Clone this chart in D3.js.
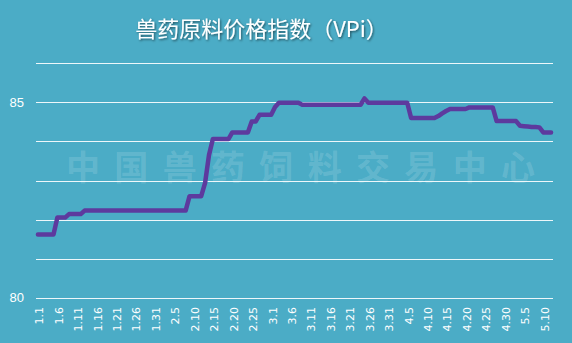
<!DOCTYPE html>
<html><head><meta charset="utf-8">
<script src="https://cdn.jsdelivr.net/npm/d3@7"></script>
<style>html,body{margin:0;padding:0;background:#fff;overflow:hidden}</style>
</head><body>
<svg id="c" width="572" height="343"></svg>
<script>
const title = "兽药原料价格指数（VPi）";
const watermark = "中国兽药饲料交易中心";
const startDate = "2020-01-01";
const values = [
  81.62,81.62,81.62,81.62,81.62,
  82.05,82.05,82.05,
  82.14,82.14,82.14,82.14,
  82.23,82.23,82.23,82.23,82.23,82.23,82.23,82.23,82.23,82.23,
  82.23,82.23,82.23,82.23,82.23,82.23,82.23,82.23,82.23,82.23,
  82.23,82.23,82.23,82.23,82.23,82.23,82.23,
  82.6,82.6,82.6,82.6,
  82.94,83.65,
  84.06,84.06,84.06,84.06,84.06,
  84.23,84.23,84.23,84.23,84.23,
  84.51,84.51,
  84.68,84.68,84.68,84.68,
  84.88,
  84.99,84.99,84.99,84.99,84.99,84.99,
  84.94,84.94,84.94,84.94,84.94,84.94,84.94,84.94,
  84.94,84.94,84.94,84.94,84.94,84.94,84.94,84.94,
  85.1,
  84.99,84.99,84.99,84.99,84.99,84.99,84.99,84.99,84.99,84.99,84.99,
  84.6,84.6,84.6,84.6,84.6,84.6,84.6,
  84.65,84.72,84.78,
  84.83,84.83,84.83,84.83,84.83,
  84.87,84.87,84.87,84.87,84.87,84.87,84.87,
  84.52,84.52,84.52,84.52,84.52,84.52,
  84.4,84.39,84.38,84.37,84.37,
  84.36,
  84.23,84.23,84.23
];
const tickLabels = ["1.1","1.6","1.11","1.16","1.21","1.26","1.31","2.5","2.10","2.15","2.20","2.25","3.1","3.6","3.11","3.16","3.21","3.26","3.31","4.5","4.10","4.15","4.20","4.25","4.30","5.5","5.10"];
const yTickLabels = [80, 85];
const yGrid = [80, 81, 82, 83, 84, 85, 86];

const d0 = new Date(startDate + "T00:00:00");
const categories = values.map((v, i) => {
  const d = d3.timeDay.offset(d0, i);
  return (d.getMonth() + 1) + "." + d.getDate();
});

const svg = d3.select("#c");
svg.append("rect").attr("width", 572).attr("height", 343).attr("fill", "#4BACC6");

const defs = svg.append("defs");
const f = defs.append("filter").attr("id", "sh").attr("x", "-10%").attr("y", "-30%").attr("width", "120%").attr("height", "160%");
f.append("feDropShadow").attr("dx", 1).attr("dy", 1.2).attr("stdDeviation", 0.8).attr("flood-color", "#000").attr("flood-opacity", 0.55);

const x = d3.scaleBand().domain(categories).range([36, 553]).padding(0);
const y = d3.scaleLinear().domain([80, 86]).range([297.7, 63.3]);
const cx = c => x(c) + x.bandwidth() / 2;

// watermark
svg.append("text").attr("x", 66).attr("y", 180)
  .attr("textLength", 469).attr("lengthAdjust", "spacing")
  .attr("font-family", "'Noto Sans CJK SC', sans-serif").attr("font-size", 34)
  .attr("font-weight", "bold")
  .attr("fill", "#ffffff").attr("fill-opacity", 0.15)
  .text(watermark);

// gridlines
svg.append("g").selectAll("line").data(yGrid).join("line")
  .attr("x1", 36).attr("x2", 553)
  .attr("y1", d => Math.round(y(d)) + 0.5).attr("y2", d => Math.round(y(d)) + 0.5)
  .attr("stroke", "#ffffff").attr("stroke-width", 1).attr("stroke-opacity", 0.9);

// y labels
svg.append("g").selectAll("text").data(yTickLabels).join("text")
  .attr("x", 24).attr("y", d => y(d)).attr("dy", "0.35em")
  .attr("text-anchor", "end")
  .attr("font-family", "'Liberation Sans', Arial, sans-serif").attr("font-size", 13)
  .attr("fill", "#ffffff").text(d => d);

// x labels
svg.append("g").selectAll("text").data(tickLabels).join("text")
  .attr("transform", d => `translate(${cx(d) + 1.5},307) rotate(-90)`)
  .attr("dy", "0.35em").attr("text-anchor", "end")
  .attr("font-family", "'DejaVu Sans', sans-serif").attr("font-size", 11)
  .attr("fill", "#ffffff").text(d => d);

// line
const line = d3.line().x((d, i) => cx(categories[i])).y(d => y(d));
svg.append("path").datum(values)
  .attr("d", line).attr("fill", "none")
  .attr("stroke", "#5D3A9E").attr("stroke-width", 4.5)
  .attr("stroke-linejoin", "round").attr("stroke-linecap", "round");

// title
svg.append("text").attr("x", 261.5).attr("y", 37).attr("text-anchor", "middle")
  .attr("font-family", "'Noto Sans CJK SC', sans-serif").attr("font-size", 22)
  .attr("fill", "#ffffff").attr("filter", "url(#sh)")
  .text(title);
</script>
</body></html>
